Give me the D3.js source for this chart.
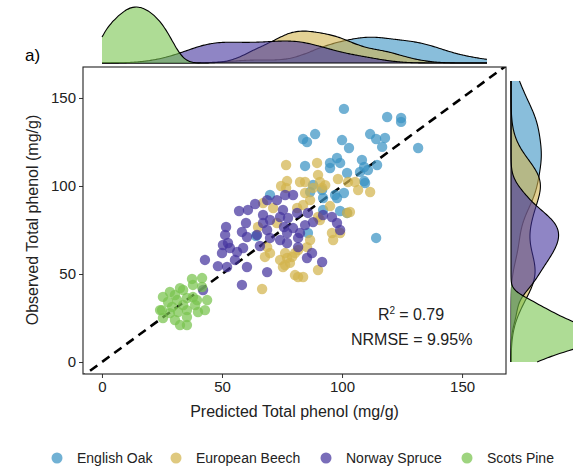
<!DOCTYPE html>
<html>
<head>
<meta charset="utf-8">
<script src="https://cdn.jsdelivr.net/npm/d3@7"></script>
<style>
  body { margin: 0; background: #fff; }
  text { font-family: "Liberation Sans", Arial, sans-serif; }
</style>
</head>
<body>
<script>
'use strict';

// species names (legend order)
const species = ["English Oak", "European Beech", "Norway Spruce", "Scots Pine"];

// predicted / observed total phenol (mg/g)
const oakPred = [100.8, 118.8, 124.6, 124.6, 83.8, 85.4, 88.8, 100.0, 102.9, 111.7, 114.2, 117.9, 116.7, 131.7,
  84.6, 95.0, 95.0, 97.9, 99.2, 108.3, 109.2, 114.6, 102.1, 107.5, 109.2, 110.8, 87.9, 91.7, 92.1, 97.1,
  97.9, 100.8, 109.6, 86.7, 102.1, 99.2, 114.2, 70.0, 85.8, 64.2, 92.1];
const oakObs = [143.8, 139.2, 138.6, 136.4, 126.7, 125.0, 129.5, 126.1, 121.6, 129.5, 126.7, 127.3, 122.2, 121.6,
  111.4, 113.1, 110.2, 115.9, 113.1, 114.8, 110.8, 111.9, 107.4, 108.0, 102.8, 109.1, 100.6, 97.7, 93.2, 94.9,
  93.2, 96.0, 101.7, 96.6, 84.7, 85.8, 70.5, 94.9, 73.3, 71.6, 86.4];

const beechPred = [76.7, 77.1, 74.6, 76.7, 82.5, 71.3, 67.1, 72.9, 65.0, 70.0, 67.9, 74.2, 76.3, 75.4, 78.3,
  66.7, 80.4, 81.7, 68.8, 76.3, 90.0, 83.8, 95.8, 96.3, 99.2, 86.7, 77.1, 79.2, 85.4, 90.8,
  102.1, 103.3, 80.4, 89.6, 84.6, 90.0, 90.8, 93.0, 91.7, 87.9, 98.3, 102.5, 105.4, 106.7, 111.7,
  84.6, 86.7, 83.8, 81.3, 95.0, 90.0, 81.7];
const beechObs = [111.9, 102.8, 100.0, 98.9, 102.3, 87.5, 90.3, 79.0, 76.7, 61.9, 59.7, 58.0, 61.9, 54.0, 56.3,
  41.5, 49.4, 48.3, 65.3, 55.1, 52.3, 48.3, 73.3, 69.3, 73.3, 69.3, 59.1, 59.7, 65.3, 80.7,
  84.7, 85.2, 61.9, 113.1, 102.3, 106.3, 102.3, 100.5, 98.9, 98.9, 104.0, 102.3, 102.3, 97.7, 96.6,
  96.0, 92.0, 89.2, 87.5, 88.6, 82.4, 63.6];

const sprucePred = [57.1, 60.8, 63.8, 68.8, 72.9, 76.3, 79.6, 67.1, 70.0, 74.2, 77.5, 75.4, 81.3, 60.0, 58.3,
  60.4, 64.6, 68.8, 70.0, 74.2, 77.1, 79.6, 81.7, 51.7, 51.3, 50.4, 52.5, 53.3, 56.3, 58.8,
  50.0, 55.4, 52.1, 48.3, 42.9, 60.4, 65.8, 68.8, 58.3, 42.1, 75.8, 77.1, 67.1, 91.7, 87.5,
  85.4, 99.2, 97.9, 95.8, 92.1, 87.9, 84.6, 82.5, 81.7, 85.8];
const spruceObs = [85.8, 86.4, 89.8, 92.0, 92.0, 94.9, 94.9, 83.5, 80.7, 82.4, 81.8, 86.4, 84.7, 79.0, 73.9,
  71.0, 72.2, 75.0, 70.5, 69.3, 73.3, 76.1, 70.5, 76.7, 72.2, 66.5, 67.6, 64.8, 62.5, 64.8,
  61.9, 58.0, 54.0, 54.5, 58.0, 54.0, 65.9, 51.1, 43.8, 40.9, 76.7, 67.6, 79.0, 56.8, 61.9,
  59.1, 75.0, 79.0, 82.4, 83.5, 79.5, 77.8, 73.3, 65.3, 84.7];

const pinePred = [25.4, 28.3, 32.5, 37.5, 41.7, 37.9, 41.7, 43.8, 39.6, 35.4, 31.3, 27.5, 25.0, 28.3, 31.7,
  35.4, 40.0, 25.4, 30.4, 32.5, 35.4, 35.4, 37.9, 33.8, 24.2, 30.4, 38.8, 42.9, 29.2, 33.8];
const pineObs = [37.0, 39.8, 42.0, 47.2, 47.7, 43.8, 42.6, 35.2, 35.2, 36.4, 35.2, 34.1, 29.5, 27.8, 28.4,
  29.5, 28.4, 25.0, 23.9, 21.0, 21.0, 25.6, 36.9, 32.4, 29.5, 38.1, 32.4, 29.5, 31.3, 40.9];

const xTicks = [0, 50, 100, 150];
const yTicks = [0, 50, 100, 150];
const statLines = ["= 0.79", "NRMSE = 9.95%"];

(function() {

  let svgContainer = "";
  const colors = ["#3a93c3", "#d2b44e", "#45349e", "#78c44e"];
  const groups = [
    { pred: oakPred, obs: oakObs },
    { pred: beechPred, obs: beechObs },
    { pred: sprucePred, obs: spruceObs },
    { pred: pinePred, obs: pineObs }
  ];

  window.onload = function() {
    svgContainer = d3.select('body')
      .append('svg')
      .attr('width', 573)
      .attr('height', 468);

    let scales = drawAxes();
    plotTopDensity();
    plotRightDensity();
    plotData(scales);
    makeLabels();
  }

  // panel, ticks and the 1:1 line
  function drawAxes() {
    let xScale = d3.scaleLinear().domain([-7.9, 168.3]).range([83, 506]);
    let yScale = d3.scaleLinear().domain([-6.8, 167.6]).range([374, 67]);

    svgContainer.append('clipPath').attr('id', 'panel')
      .append('rect')
      .attr('x', 83).attr('y', 67).attr('width', 423).attr('height', 307);

    let xAxis = d3.axisBottom(xScale).tickValues(xTicks).tickSize(4).tickPadding(3);
    let gx = svgContainer.append('g')
      .attr('transform', 'translate(0, 374)')
      .call(xAxis);
    gx.select('.domain').remove();
    gx.selectAll('line').attr('stroke', '#333');
    gx.selectAll('text').style('font-size', '15px').attr('fill', '#222')
      .style('font-family', '"Liberation Sans", Arial, sans-serif');

    let yAxis = d3.axisLeft(yScale).tickValues(yTicks).tickSize(4).tickPadding(3);
    let gy = svgContainer.append('g')
      .attr('transform', 'translate(83, 0)')
      .call(yAxis);
    gy.select('.domain').remove();
    gy.selectAll('line').attr('stroke', '#333');
    gy.selectAll('text').style('font-size', '15px').attr('fill', '#222')
      .style('font-family', '"Liberation Sans", Arial, sans-serif');

    // dashed 1:1 line
    svgContainer.append('line')
      .attr('clip-path', 'url(#panel)')
      .attr('x1', xScale(-10)).attr('y1', yScale(-10))
      .attr('x2', xScale(170)).attr('y2', yScale(170))
      .attr('stroke', 'black')
      .attr('stroke-width', 2.6)
      .attr('stroke-dasharray', '9,6');

    return { x: xScale, y: yScale };
  }

  // gaussian kernel density, bw.nrd0 like R
  function kde(values, grid) {
    let sorted = values.slice().sort(d3.ascending);
    let iqr = d3.quantile(sorted, 0.75) - d3.quantile(sorted, 0.25);
    let h = 0.9 * Math.min(d3.deviation(values), iqr / 1.34) * Math.pow(values.length, -0.2);
    return grid.map(g => [g, d3.mean(values, v => Math.exp(-0.5 * ((g - v) / h) ** 2)) / (h * Math.sqrt(2 * Math.PI))]);
  }

  function plotTopDensity() {
    let all = [].concat(oakPred, beechPred, sprucePred, pinePred);
    let ext = d3.extent(all);
    let grid = d3.range(0, 201).map(i => ext[0] + (ext[1] - ext[0]) * i / 200);
    let dens = groups.map(g => kde(g.pred, grid));
    let dMax = d3.max(dens, d => d3.max(d, p => p[1]));

    let xm = d3.scaleLinear().domain(ext).range([102, 487]);
    let dy = d3.scaleLinear().domain([0, dMax]).range([63, 7]);

    let area = d3.area().x(d => xm(d[0])).y0(63).y1(d => dy(d[1])).curve(d3.curveBasis);
    let line = d3.line().x(d => xm(d[0])).y(d => dy(d[1])).curve(d3.curveBasis);

    dens.forEach((d, i) => {
      svgContainer.append('path').datum(d)
        .attr('d', area)
        .attr('fill', colors[i])
        .attr('fill-opacity', 0.6);
      svgContainer.append('path').datum(d)
        .attr('d', line)
        .attr('fill', 'none')
        .attr('stroke', 'black')
        .attr('stroke-width', 1.1);
    });
  }

  function plotRightDensity() {
    let all = [].concat(oakObs, beechObs, spruceObs, pineObs);
    let ext = d3.extent(all);
    let grid = d3.range(0, 201).map(i => ext[0] + (ext[1] - ext[0]) * i / 200);
    let dens = groups.map(g => kde(g.obs, grid));
    let dMax = d3.max(dens, d => d3.max(d, p => p[1]));

    let ym = d3.scaleLinear().domain(ext).range([362, 81]);
    let dx = d3.scaleLinear().domain([0, dMax]).range([511, 590]);

    let area = d3.area().y(d => ym(d[0])).x0(511).x1(d => dx(d[1])).curve(d3.curveBasis);
    let line = d3.line().y(d => ym(d[0])).x(d => dx(d[1])).curve(d3.curveBasis);

    dens.forEach((d, i) => {
      svgContainer.append('path').datum(d)
        .attr('d', area)
        .attr('fill', colors[i])
        .attr('fill-opacity', 0.6);
      svgContainer.append('path').datum(d)
        .attr('d', line)
        .attr('fill', 'none')
        .attr('stroke', 'black')
        .attr('stroke-width', 1.1);
    });
  }

  // scatter points
  function plotData(map) {
    groups.forEach((g, i) => {
      svgContainer.append('g')
        .attr('clip-path', 'url(#panel)')
        .selectAll('circle')
        .data(g.pred.map((p, k) => [p, g.obs[k]]))
        .enter()
        .append('circle')
        .attr('cx', d => map.x(d[0]))
        .attr('cy', d => map.y(d[1]))
        .attr('r', 5.2)
        .attr('fill', colors[i])
        .attr('fill-opacity', 0.72);
    });

    // panel border on top
    svgContainer.append('rect')
      .attr('x', 83).attr('y', 67).attr('width', 423).attr('height', 307)
      .attr('fill', 'none')
      .attr('stroke', '#222')
      .attr('stroke-width', 1.1);
  }

  function makeLabels() {
    svgContainer.append('text')
      .attr('x', 25).attr('y', 61)
      .style('font-size', '17px')
      .text('a)');

    svgContainer.append('text')
      .attr('x', 294.5).attr('y', 417)
      .attr('text-anchor', 'middle')
      .style('font-size', '16px')
      .attr('fill', '#222')
      .text('Predicted Total phenol (mg/g)');

    svgContainer.append('text')
      .attr('transform', 'translate(38, 220)rotate(-90)')
      .attr('text-anchor', 'middle')
      .style('font-size', '16px')
      .attr('fill', '#222')
      .text('Observed Total phenol (mg/g)');

    // R2 and NRMSE
    let r2 = svgContainer.append('text')
      .attr('x', 378).attr('y', 320)
      .style('font-size', '16px')
      .attr('fill', '#222');
    r2.append('tspan').text('R');
    r2.append('tspan').attr('dy', -6).style('font-size', '10px').text('2');
    r2.append('tspan').attr('dy', 6).attr('dx', 4).text(statLines[0]);

    svgContainer.append('text')
      .attr('x', 351).attr('y', 345)
      .style('font-size', '16px')
      .attr('fill', '#222')
      .text(statLines[1]);

    // legend
    let keyX = [57, 176, 326, 467];
    let legend = svgContainer.append('g');
    species.forEach((s, i) => {
      legend.append('circle')
        .attr('cx', keyX[i]).attr('cy', 458)
        .attr('r', 5.5)
        .attr('fill', colors[i])
        .attr('fill-opacity', 0.72);
      legend.append('text')
        .attr('x', keyX[i] + 20).attr('y', 463)
        .style('font-size', '14px')
        .attr('fill', '#222')
        .text(s);
    });
  }
})();
</script>
</body>
</html>
